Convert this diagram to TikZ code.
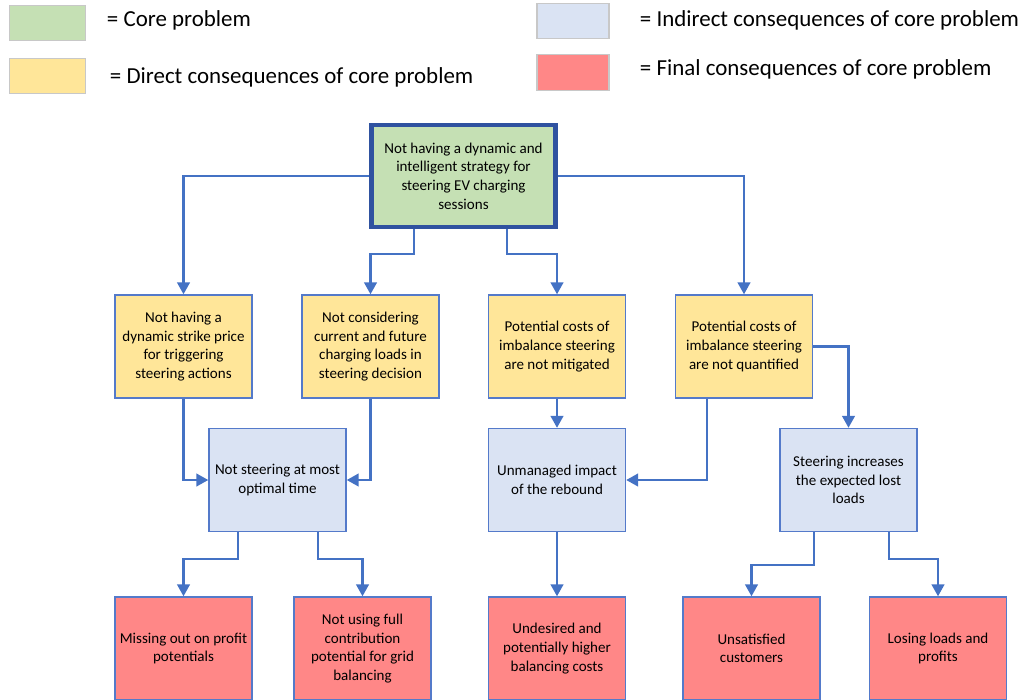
\documentclass[tikz,border=0pt]{standalone}
\usepackage{fontspec}
\setmainfont{Carlito}
\usetikzlibrary{arrows.meta,positioning,calc}
\definecolor{linkblue}{RGB}{68,114,196}
\definecolor{edgeblue}{RGB}{84,122,202}
\definecolor{coreblue}{RGB}{47,82,160}
\definecolor{coregreen}{RGB}{197,224,180}
\definecolor{directyellow}{RGB}{255,230,153}
\definecolor{indirectlav}{RGB}{218,227,243}
\definecolor{finalred}{RGB}{255,135,135}
\definecolor{swatchgray}{RGB}{200,200,200}

\begin{document}
\begin{tikzpicture}[x=0.025cm,y=-0.025cm,font=\fontsize{10.7}{13.2}\selectfont,
 box/.style={draw=edgeblue,line width=1pt,align=center,minimum width=3.425cm,minimum height=2.575cm,inner sep=2pt},
 direct/.style={box,fill=directyellow},
 indirect/.style={box,fill=indirectlav},
 final/.style={box,fill=finalred},
 swatch/.style={draw=swatchgray,line width=0.8pt,minimum width=1.9cm,minimum height=0.88cm},
 legtext/.style={anchor=west,font=\fontsize{16.3}{19}\selectfont},
 arr/.style={-{Triangle[length=8.5pt,width=9pt]},line width=1.6pt,draw=linkblue}]
\useasboundingbox (0,0) rectangle (1024,699);
\clip (0,0) rectangle (1024,699);
% legend
\node[swatch,fill=coregreen] (kcore) at (47.5,23) {};
\node[legtext] (tcore) at (102,20) {= Core problem};
\node[swatch,fill=directyellow] (kdirect) at (47.5,76) {};
\node[legtext] (tdirect) at (105,77) {= Direct consequences of core problem};
\node[swatch,fill=indirectlav,minimum width=1.8cm] (kindirect) at (573,21) {};
\node[legtext] (tindirect) at (635,20) {= Indirect consequences of core problem};
\node[swatch,fill=finalred,minimum width=1.8cm] (kfinal) at (573,72.5) {};
\node[legtext] (tfinal) at (635,69) {= Final consequences of core problem};
% core problem
\node[box,draw=coreblue,line width=3pt,fill=coregreen,minimum width=4.6cm,minimum height=2.55cm] (core) at (463.5,176) {Not having a dynamic and\\intelligent strategy for\\steering EV charging\\sessions};
% direct consequences
\node[direct] (strike) at (183.5,346.5) {Not having a\\dynamic strike price\\for triggering\\steering actions};
\node[direct] (loads) at (370.5,346.5) {Not considering\\current and future\\charging loads in\\steering decision};
\node[direct] (mitig) at (557,346.5) {Potential costs of\\imbalance steering\\are not mitigated};
\node[direct] (quant) at (744,346.5) {Potential costs of\\imbalance steering\\are not quantified};
% indirect consequences
\node[indirect] (timing) at (277.5,480) {Not steering at most\\optimal time};
\node[indirect] (rebound) at (557,480) {Unmanaged impact\\of the rebound};
\node[indirect] (lost) at (848.5,480) {Steering increases\\the expected lost\\loads};
% final consequences
\node[final] (profit) at (183.5,648.5) {Missing out on profit\\potentials};
\node[final] (grid) at (362.5,648.5) {Not using full\\contribution\\potential for grid\\balancing};
\node[final] (costs) at (557,648.5) {Undesired and\\potentially higher\\balancing costs};
\node[final] (unsat) at (751.5,648.5) {Unsatisfied\\customers};
\node[final] (losing) at (938,648.5) {Losing loads and\\profits};
% links
\draw[arr] (core.west) -| (strike.north);
\draw[arr] (core.east) -| (quant.north);
\draw[arr] (core.south) ++(-49.5,0) -- ++(0,25) -| (loads.north);
\draw[arr] (core.south) ++(43.5,0) -- ++(0,25) -| (mitig.north);
\draw[arr] (strike.south) |- (timing.west);
\draw[arr] (loads.south) |- (timing.east);
\draw[arr] (mitig.south) -- (rebound.north);
\draw[arr] (quant.south) ++(-37,0) |- (rebound.east);
\draw[arr] (quant.east) -| (lost.north);
\draw[arr] (timing.south) ++(-39.5,0) -- ++(0,27) -| (profit.north);
\draw[arr] (timing.south) ++(40.5,0) -- ++(0,27) -| (grid.north);
\draw[arr] (rebound.south) -- (costs.north);
\draw[arr] (lost.south) ++(-34.5,0) -- ++(0,33) -| (unsat.north);
\draw[arr] (lost.south) ++(40.5,0) -- ++(0,27) -| (losing.north);
\end{tikzpicture}
\end{document}
